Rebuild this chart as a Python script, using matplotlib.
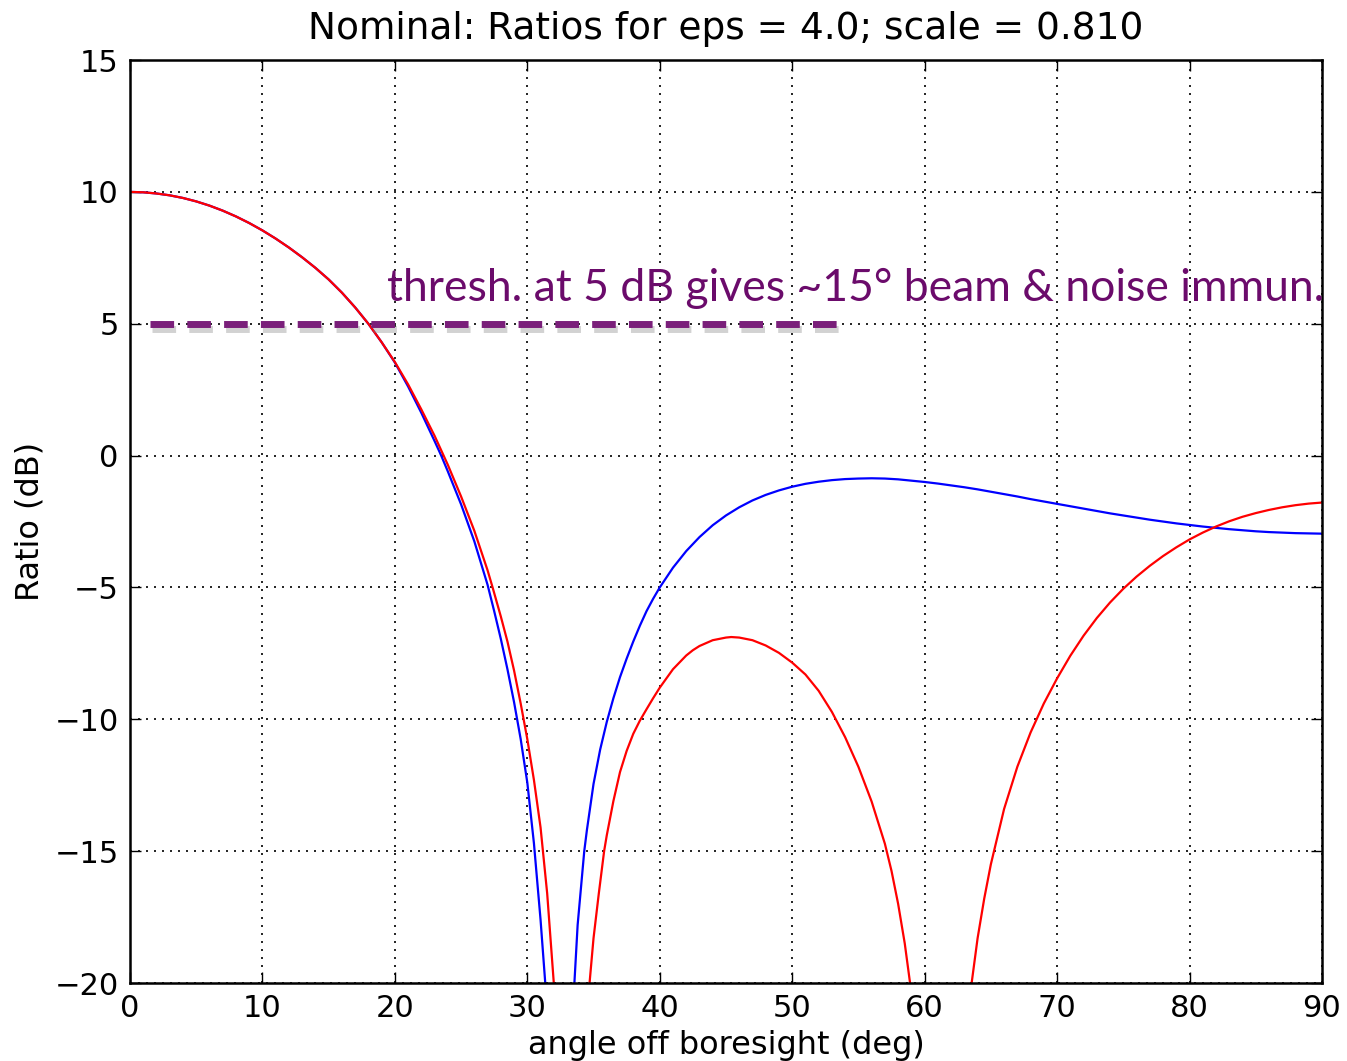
import matplotlib
matplotlib.use("Agg")
import matplotlib.pyplot as plt
import matplotlib.patheffects as pe

# blue curve: angle (deg) and ratio (dB), values below -20 fall off the axes
angle_blue = [0, 1, 2, 3, 4, 5, 6, 7, 8, 9, 10, 11, 12, 13, 14, 15, 16, 17, 18, 19,
              20, 21, 22, 23, 23.5, 24, 25, 26, 27, 27.5, 28, 28.5, 29, 29.5, 30,
              30.5, 31, 31.4, 31.8, 32.1, 32.4,
              32.9, 33.2, 33.5, 33.8, 34.3, 34.5, 35, 35.5, 36, 36.5, 37, 37.5, 38,
              38.5, 39, 39.5, 40, 41, 42, 43, 44, 45, 46, 47, 48, 49, 50, 51, 52,
              53, 54, 55, 56, 57, 58, 59, 60, 61, 62, 63, 64, 65, 66, 67, 68, 69,
              70, 71, 72, 73, 74, 75, 76, 77, 78, 79, 80, 81, 82, 83, 84, 85, 86,
              87, 88, 89, 90]
ratio_blue = [10.0, 9.985, 9.94, 9.87, 9.77, 9.64, 9.48, 9.29, 9.07, 8.82, 8.54,
              8.23, 7.89, 7.52, 7.12, 6.68, 6.18, 5.62, 5.0, 4.3, 3.53, 2.62, 1.62,
              0.55, 0.0, -0.6, -1.85, -3.25, -4.9, -5.9, -6.95, -8.1, -9.35, -10.75,
              -12.4, -14.7, -17.6, -20.3, -24.0, -29.0, -50.0,
              -50.0, -26.0, -20.5, -17.8, -15.0, -14.2, -12.45, -11.15, -10.1, -9.2,
              -8.4, -7.7, -7.05, -6.45, -5.9, -5.43, -5.0, -4.25, -3.62, -3.09, -2.64,
              -2.27, -1.96, -1.7, -1.49, -1.32, -1.18, -1.07, -0.99, -0.93, -0.89,
              -0.87, -0.86, -0.87, -0.9, -0.95, -1.0, -1.06, -1.13, -1.2, -1.28,
              -1.37, -1.46, -1.55, -1.65, -1.74, -1.83, -1.92, -2.01, -2.1, -2.19,
              -2.27, -2.35, -2.43, -2.5, -2.57, -2.63, -2.69, -2.74, -2.79, -2.83,
              -2.87, -2.9, -2.92, -2.94, -2.95, -2.96]

# red curve
angle_red = [0, 1, 2, 3, 4, 5, 6, 7, 8, 9, 10, 11, 12, 13, 14, 15, 16, 17, 18, 19,
             20, 21, 22, 23, 24, 25, 26, 27, 27.38, 28, 28.5, 29, 29.5, 30, 30.5,
             31, 31.5, 32, 32.4, 32.8, 33.1,
             33.4, 33.8, 34.2, 34.7, 35, 35.4, 35.8, 36, 36.5, 37, 37.5, 38, 38.5,
             39, 39.5, 40, 41, 42, 42.5, 43, 44, 45, 45.4, 46, 47, 48, 49, 50, 51,
             52, 53, 54, 55, 56, 57, 57.5, 58, 58.5, 58.9, 59.3, 60, 60.6, 61.2,
             61.3, 62, 62.5, 63, 63.55, 64, 64.5, 65, 66, 67, 68, 69, 70, 71, 72,
             73, 74, 75, 76, 77, 78, 79, 80, 81, 82, 83, 84, 85, 86, 87, 88, 89, 90]
ratio_red = [10.0, 9.985, 9.94, 9.87, 9.77, 9.64, 9.48, 9.29, 9.07, 8.82, 8.54, 8.23,
             7.89, 7.52, 7.12, 6.68, 6.18, 5.62, 5.0, 4.3, 3.55, 2.7, 1.75, 0.75,
             -0.35, -1.55, -2.85, -4.35, -5.0, -6.1, -7.05, -8.15, -9.4, -10.75,
             -12.3, -14.1, -16.6, -20.0, -24.0, -31.0, -50.0,
             -50.0, -31.0, -24.5, -20.0, -18.3, -16.6, -15.0, -14.4, -13.1, -12.0,
             -11.2, -10.55, -10.05, -9.62, -9.2, -8.8, -8.1, -7.58, -7.38, -7.22,
             -7.0, -6.9, -6.88, -6.9, -7.0, -7.2, -7.48, -7.85, -8.3, -8.92, -9.72,
             -10.68, -11.8, -13.12, -14.72, -15.75, -17.0, -18.5, -20.0, -22.0, -26.0,
             -35.0, -50.0,
             -50.0, -30.0, -25.5, -22.5, -20.0, -18.3, -16.8, -15.5, -13.4, -11.8,
             -10.5, -9.4, -8.45, -7.59, -6.83, -6.16, -5.57, -5.05, -4.59, -4.18,
             -3.81, -3.48, -3.18, -2.92, -2.69, -2.49, -2.32, -2.18, -2.06, -1.96,
             -1.88, -1.82, -1.78]

thresh_x = [1.5, 54.2]
thresh_y = [5, 5]
note = "thresh. at 5 dB gives ~15\u00b0 beam & noise immun."

fig = plt.figure(figsize=(13.47, 10.61), dpi=100)
ax = fig.add_axes([0.0965, 0.0735, 0.8849, 0.8699])

ax.plot(angle_blue, ratio_blue, color="#0000ff", lw=1.6)
ax.plot(angle_red, ratio_red, color="#ff0000", lw=1.6)

ax.plot(thresh_x, thresh_y, color="#7a1f7a", lw=5, dashes=(3.4, 1.9),
        solid_capstyle="butt", dash_capstyle="butt",
        path_effects=[pe.SimpleLineShadow(offset=(1.5, -4), shadow_color="gray", alpha=0.35),
                      pe.Normal()])
ax.text(19.4, 5.85, note, color="#6b0b6b", fontsize=32, family="Lato",
        va="baseline", ha="left")

ax.set_xlim(0, 90)
ax.set_ylim(-20, 15)
ax.set_xticks(range(0, 91, 10))
ax.set_yticks(range(-20, 16, 5))
ax.grid(True, color="black", linestyle=(0, (1.2, 3.6)), lw=1.2)
ax.tick_params(direction="in", top=True, right=True, length=8, width=1,
               labelsize=22, pad=8)
for sp in ax.spines.values():
    sp.set_linewidth(1.8)

ax.set_title("Nominal: Ratios for eps = 4.0; scale = 0.810", fontsize=27, pad=15.5)
ax.set_xlabel("angle off boresight (deg)", fontsize=23, labelpad=5)
ax.set_ylabel("Ratio (dB)", fontsize=23, labelpad=6.5)

fig.savefig("out.png", dpi=100)
